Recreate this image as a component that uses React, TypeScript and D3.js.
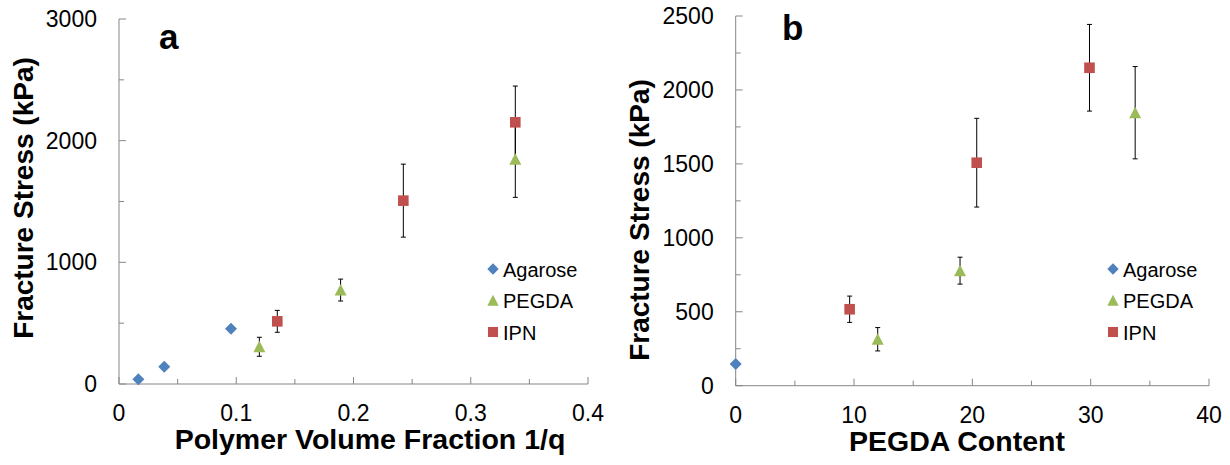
import React, { useEffect, useRef } from "react";
import * as d3 from "d3";

// panel a: polymer volume fraction 1/q
const agaroseAX = [0.0165, 0.0386, 0.0955];
const agaroseAY = [39, 142, 454];
const pegdaAX = [0.1197, 0.189, 0.338];
const pegdaAY = [306, 772, 1847];
const pegdaAErr = [78, 90, 313];
const ipnAX = [0.135, 0.2425, 0.338];
const ipnAY = [515, 1507, 2151];
const ipnAErr = [90, 300, 298];

// panel b: PEGDA content
const agaroseBX = [0];
const agaroseBY = [147];
const pegdaBX = [12.0, 18.96, 33.76];
const pegdaBY = [314, 778, 1846];
const pegdaBErr = [79, 91, 312];
const ipnBX = [9.63, 20.37, 29.9];
const ipnBY = [517, 1508, 2150];
const ipnBErr = [89, 300, 293];

const seriesNames = ["Agarose", "PEGDA", "IPN"];
const ticksAX = [0, 0.1, 0.2, 0.3, 0.4];
const ticksAY = [0, 1000, 2000, 3000];
const ticksBX = [0, 10, 20, 30, 40];
const ticksBY = [0, 500, 1000, 1500, 2000, 2500];

const colors: Record<string, string> = {
  Agarose: "#4F81BD",
  PEGDA: "#9BBB59",
  IPN: "#C0504D",
};
const FONT = "Arial, 'Liberation Sans', sans-serif";
const AXIS = "#868686";

const markerPath = (name: string) => {
  if (name === "Agarose") return "M0,-6L6,0L0,6L-6,0Z";
  if (name === "PEGDA") return "M0,-6L6,5.5L-6,5.5Z";
  return "M-5.3,-5.3H5.3V5.3H-5.3Z";
};

export default function App() {
  const ref = useRef<SVGSVGElement>(null);

  useEffect(() => {
    const svg = d3.select(ref.current);
    svg.selectAll("*").remove();

    const drawPanel = (opts: any) => {
      const { x, y, xTicks, yTicks, xMinor, yMinor, xFmt, letter, letterPos, xTitle, xTitleX, yTitleX, yTitleY, legendX, series } = opts;
      const g = svg.append("g");
      const [x0, x1] = x.range();
      const [y0, y1] = y.range();

      // axes lines
      g.append("line").attr("x1", x0).attr("x2", x0).attr("y1", y0).attr("y2", y1).attr("stroke", AXIS);
      g.append("line").attr("x1", x0).attr("x2", x1).attr("y1", y0).attr("y2", y0).attr("stroke", AXIS);

      // minor + major ticks (inside)
      yMinor.forEach((t: number) =>
        g.append("line").attr("x1", x0).attr("x2", x0 + 5).attr("y1", y(t)).attr("y2", y(t)).attr("stroke", AXIS));
      yTicks.forEach((t: number) =>
        g.append("line").attr("x1", x0).attr("x2", x0 + 7).attr("y1", y(t)).attr("y2", y(t)).attr("stroke", AXIS));
      xMinor.forEach((t: number) =>
        g.append("line").attr("x1", x(t)).attr("x2", x(t)).attr("y1", y0).attr("y2", y0 - 5).attr("stroke", AXIS));
      xTicks.forEach((t: number) =>
        g.append("line").attr("x1", x(t)).attr("x2", x(t)).attr("y1", y0).attr("y2", y0 - 7).attr("stroke", AXIS));

      // tick labels
      g.selectAll(".yl").data(yTicks).enter().append("text")
        .attr("x", x0 - 22).attr("y", (d: number) => y(d) + 8)
        .attr("text-anchor", "end").attr("font-size", 23).attr("font-family", FONT)
        .text((d: number) => d);
      g.selectAll(".xl").data(xTicks).enter().append("text")
        .attr("x", (d: number) => x(d)).attr("y", y0 + 37)
        .attr("text-anchor", "middle").attr("font-size", 23).attr("font-family", FONT)
        .text(xFmt);

      // titles
      g.append("text").attr("x", xTitleX).attr("y", y0 + 65)
        .attr("text-anchor", "middle").attr("font-size", 28.5).attr("font-weight", "bold")
        .attr("font-family", FONT).text(xTitle);
      g.append("text")
        .attr("transform", `translate(${yTitleX},${yTitleY}) rotate(-90)`)
        .attr("text-anchor", "middle").attr("font-size", 28).attr("font-weight", "bold")
        .attr("font-family", FONT).text("Fracture Stress (kPa)");
      g.append("text").attr("x", letterPos[0]).attr("y", letterPos[1])
        .attr("font-size", 35).attr("font-weight", "bold").attr("font-family", FONT).text(letter);

      // error bars
      series.forEach((s: any) => {
        if (!s.err) return;
        s.xs.forEach((xv: number, i: number) => {
          const cx = x(xv), top = y(s.ys[i] + s.err[i]), bot = y(s.ys[i] - s.err[i]);
          g.append("line").attr("x1", cx).attr("x2", cx).attr("y1", top).attr("y2", bot).attr("stroke", "#000");
          [top, bot].forEach((yy) =>
            g.append("line").attr("x1", cx - 2.5).attr("x2", cx + 2.5).attr("y1", yy).attr("y2", yy).attr("stroke", "#000"));
        });
      });

      // markers
      series.forEach((s: any) => {
        g.selectAll(null).data(s.xs).enter().append("path")
          .attr("d", markerPath(s.name))
          .attr("transform", (d: number, i: number) => `translate(${x(d)},${y(s.ys[i])})`)
          .attr("fill", colors[s.name]);
      });

      // legend
      seriesNames.forEach((n, i) => {
        const ly = 269 + i * 31.5;
        g.append("path").attr("d", markerPath(n))
          .attr("transform", `translate(${legendX},${ly}) scale(0.95)`).attr("fill", colors[n]);
        g.append("text").attr("x", legendX + 10).attr("y", ly + 7.5)
          .attr("font-size", 20).attr("font-family", FONT).text(n);
      });
    };

    drawPanel({
      x: d3.scaleLinear().domain([0, 0.4]).range([119, 588]),
      y: d3.scaleLinear().domain([0, 3000]).range([384, 19]),
      xTicks: ticksAX,
      yTicks: ticksAY,
      xMinor: d3.range(0.05, 0.4, 0.1),
      yMinor: d3.range(500, 3000, 1000),
      xFmt: (d: number) => (d === 0 ? "0" : d3.format(".1f")(d)),
      letter: "a",
      letterPos: [159, 49],
      xTitle: "Polymer Volume Fraction 1/q",
      xTitleX: 370,
      yTitleX: 33,
      yTitleY: 198,
      legendX: 493,
      series: [
        { name: "Agarose", xs: agaroseAX, ys: agaroseAY },
        { name: "PEGDA", xs: pegdaAX, ys: pegdaAY, err: pegdaAErr },
        { name: "IPN", xs: ipnAX, ys: ipnAY, err: ipnAErr },
      ],
    });

    drawPanel({
      x: d3.scaleLinear().domain([0, 40]).range([735.7, 1209]),
      y: d3.scaleLinear().domain([0, 2500]).range([385.7, 16]),
      xTicks: ticksBX,
      yTicks: ticksBY,
      xMinor: d3.range(5, 40, 10),
      yMinor: d3.range(250, 2500, 500),
      xFmt: (d: number) => String(d),
      letter: "b",
      letterPos: [782, 40],
      xTitle: "PEGDA Content",
      xTitleX: 957,
      yTitleX: 649,
      yTitleY: 220,
      legendX: 1113,
      series: [
        { name: "Agarose", xs: agaroseBX, ys: agaroseBY },
        { name: "PEGDA", xs: pegdaBX, ys: pegdaBY, err: pegdaBErr },
        { name: "IPN", xs: ipnBX, ys: ipnBY, err: ipnBErr },
      ],
    });
  }, []);

  return (
    <svg
      ref={ref}
      width={1230}
      height={465}
      style={{ position: "absolute", left: 0, top: 0, background: "#fff" }}
    />
  );
}
